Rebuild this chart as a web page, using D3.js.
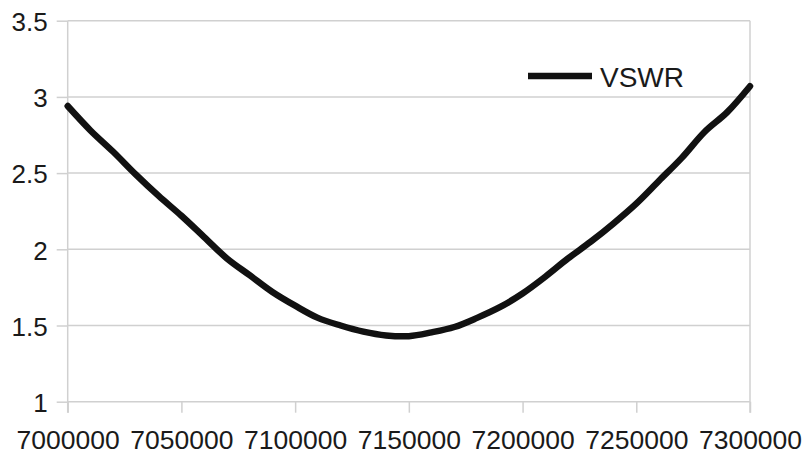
<!DOCTYPE html>
<html>
<head>
<meta charset="utf-8">
<script src="https://cdn.jsdelivr.net/npm/d3@7"></script>
<style>
  body { margin: 0; background: #fff; }
  svg { display: block; font-family: 'Liberation Sans', Arial, sans-serif; }
</style>
</head>
<body>
<div id="chart"></div>
<script>
const freqs = [
  7000000, 7010000, 7020000, 7030000, 7040000, 7050000, 7060000, 7070000,
  7080000, 7090000, 7100000, 7110000, 7120000, 7130000, 7140000, 7150000,
  7160000, 7170000, 7180000, 7190000, 7200000, 7210000, 7220000, 7230000,
  7240000, 7250000, 7260000, 7270000, 7280000, 7290000, 7300000
];
const vswr = [
  2.94, 2.78, 2.64, 2.49, 2.35, 2.22, 2.08, 1.94,
  1.83, 1.72, 1.63, 1.55, 1.50, 1.46, 1.435, 1.43,
  1.455, 1.49, 1.55, 1.62, 1.71, 1.82, 1.94, 2.05,
  2.17, 2.30, 2.45, 2.60, 2.77, 2.90, 3.07
];
const xTicks = [7000000, 7050000, 7100000, 7150000, 7200000, 7250000, 7300000];
const yTicks = [1, 1.5, 2, 2.5, 3, 3.5];
const seriesName = 'VSWR';

const W = 804, H = 456;
const margin = { top: 20.7, right: 54, bottom: 54.3, left: 67.7 };
const width = W - margin.left - margin.right;
const height = H - margin.top - margin.bottom;

const gridColor = '#d0d0d0';
const textColor = '#1a1a1a';

const svg = d3.select('#chart')
  .append('svg')
  .attr('width', W)
  .attr('height', H);

const g = svg.append('g')
  .attr('transform', `translate(${margin.left},${margin.top})`);

const x = d3.scaleLinear().domain([7000000, 7300000]).range([0, width]);
const y = d3.scaleLinear().domain([1, 3.5]).range([height, 0]);

// y axis labels + little ticks to the left
const yAxis = g.append('g')
  .call(d3.axisLeft(y).tickValues(yTicks).tickSize(11).tickPadding(9)
    .tickFormat(d => String(d)));
yAxis.select('.domain').remove();
yAxis.selectAll('line').attr('stroke', gridColor).attr('stroke-width', 1.5);
yAxis.selectAll('text')
  .attr('fill', textColor)
  .attr('dy', '0.38em')
  .style('font-size', '26px');

// horizontal gridlines
g.append('g')
  .selectAll('line')
  .data(yTicks)
  .enter().append('line')
  .attr('x1', 0).attr('x2', width)
  .attr('y1', d => y(d)).attr('y2', d => y(d))
  .attr('stroke', gridColor)
  .attr('stroke-width', 1.5);

// x axis ticks + labels
const xAxis = g.append('g')
  .attr('transform', `translate(0,${height})`)
  .call(d3.axisBottom(x).tickValues(xTicks).tickSize(11).tickPadding(17)
    .tickFormat(d3.format('d')));
xAxis.select('.domain').remove();
xAxis.selectAll('line').attr('stroke', gridColor).attr('stroke-width', 1.5);
xAxis.selectAll('text')
  .attr('fill', textColor)
  .style('font-size', '26.5px');

// left / right frame lines
g.selectAll('.vline')
  .data([0, width])
  .enter().append('line')
  .attr('class', 'vline')
  .attr('x1', d => d).attr('x2', d => d)
  .attr('y1', 0).attr('y2', height + 11)
  .attr('stroke', gridColor)
  .attr('stroke-width', 1.5);

// the series
const line = d3.line()
  .x((d, i) => x(freqs[i]))
  .y(d => y(d))
  .curve(d3.curveCatmullRom);

g.append('path')
  .datum(vswr)
  .attr('fill', 'none')
  .attr('stroke', '#111')
  .attr('stroke-width', 6.5)
  .attr('stroke-linejoin', 'round')
  .attr('stroke-linecap', 'round')
  .attr('d', line);

// legend
const legend = svg.append('g');
legend.append('line')
  .attr('x1', 528).attr('x2', 592)
  .attr('y1', 76).attr('y2', 76)
  .attr('stroke', '#111')
  .attr('stroke-width', 6.5);
legend.append('text')
  .attr('x', 600)
  .attr('y', 87)
  .attr('fill', textColor)
  .style('font-size', '28px')
  .text(seriesName);
</script>
</body>
</html>
